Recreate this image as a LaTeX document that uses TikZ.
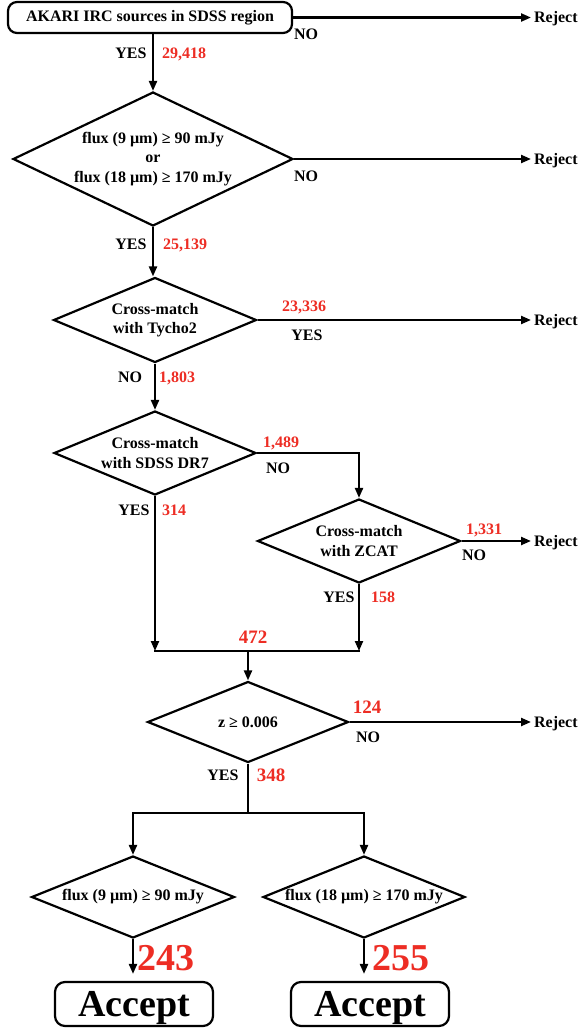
\documentclass[tikz,border=0pt]{standalone}
\usepackage{fontspec}
\setmainfont{Liberation Serif}
\usetikzlibrary{shapes.geometric,arrows.meta}
\definecolor{redn}{RGB}{237,45,36}
\begin{document}
\begin{tikzpicture}[x=1pt,y=-1pt,line width=2.2pt,
  >={Triangle[length=10pt,width=8pt]},
  lbl/.style={inner sep=0pt,text height=10.6pt,text depth=0pt,font=\fontsize{16}{19}\selectfont\bfseries},
  num/.style={lbl,text=redn},
  bnum/.style={inner sep=0pt,text height=12.6pt,text depth=0pt,text=redn,font=\fontsize{19}{22}\selectfont\bfseries},
  hnum/.style={inner sep=0pt,text height=25pt,text depth=0pt,text=redn,font=\fontsize{38}{44}\selectfont\bfseries},
  rej/.style={lbl,anchor=west,inner xsep=2pt},
  dia/.style={diamond,draw,inner sep=0pt,align=center,font=\fontsize{16}{19.5}\selectfont\bfseries},
  rbox/.style={draw,rounded corners=9pt,inner sep=0pt}
]
\useasboundingbox (0,0) rectangle (580,1029);

% start
\node[rbox,minimum width=284pt,minimum height=31pt,font=\fontsize{16}{19}\selectfont\bfseries] (start) at (150,17.5) {AKARI IRC sources in SDSS region};
\node[rej] (r1) at (531,17.5) {Reject};
\draw[->] (start.east) -- (r1.west);
\node[lbl] (no1) at (306,34) {NO};

% diamond 1
\node[dia,minimum width=280pt,minimum height=134pt,shape aspect=2.09] (d1) at (153,159)
  {flux (9 µm) ≥ 90 mJy\\or\\flux (18 µm) ≥ 170 mJy};
\draw[->] (d1.north |- start.south) -- (d1.north);
\node[lbl] (yes1) at (131,53) {YES};
\node[num] (n1) at (184,53) {29,418};
\node[rej] (r2) at (531,159) {Reject};
\draw[->] (d1.east) -- (r2.west);
\node[lbl] (no2) at (306,176) {NO};

% Tycho2
\node[dia,minimum width=203pt,minimum height=85pt,shape aspect=2.39] (ty) at (155,320)
  {Cross-match\\with Tycho2};
\draw[->] (d1.south) -- (d1.south |- ty.north);
\node[lbl] (yes2) at (131,244) {YES};
\node[num] (n2) at (185,244) {25,139};
\node[rej] (r3) at (531,320) {Reject};
\draw[->] (ty.east) -- (r3.west);
\node[num] (n3) at (304,306) {23,336};
\node[lbl] (yes3) at (307,335) {YES};

% SDSS DR7
\node[dia,minimum width=202pt,minimum height=84pt,shape aspect=2.4] (sd) at (155,453)
  {Cross-match\\with SDSS DR7};
\draw[->] (ty.south) -- (sd.north);
\node[lbl] (no3) at (130,377) {NO};
\node[num] (n4) at (177,377) {1,803};

% ZCAT
\node[dia,minimum width=203pt,minimum height=84pt,shape aspect=2.42] (zc) at (359,541)
  {Cross-match\\with ZCAT};
\draw[->] (sd.east) -| (zc.north);
\node[num] (n5) at (281,442) {1,489};
\node[lbl] (no4) at (278,468) {NO};
\node[rej] (r4) at (531,541) {Reject};
\draw[->] (zc.east) -- (r4.west);
\node[num] (n6) at (484,529) {1,331};
\node[lbl] (no5) at (474,555) {NO};

% merge
\coordinate (mL) at (155,651);
\coordinate (mR) at (359,651);
\coordinate (mC) at (248,651);
\draw[->] (sd.south) -- (mL);
\draw[->] (zc.south) -- (mR);
\draw[line cap=rect] (mL) -- (mR);
\node[lbl] (yes4) at (134,510) {YES};
\node[num] (n7) at (174,510) {314};
\node[lbl] (yes5) at (339,597) {YES};
\node[num] (n8) at (383,597) {158};
\node[bnum] (n9) at (253,637) {472};

% redshift
\node[dia,minimum width=201pt,minimum height=81pt,shape aspect=2.48] (z) at (248,722)
  {z ≥ 0.006};
\draw[->] (mC) -- (z.north);
\node[rej] (r5) at (531,722) {Reject};
\draw[->] (z.east) -- (r5.west);
\node[bnum] (n10) at (367,707) {124};
\node[lbl] (no6) at (368,737) {NO};
\node[lbl] (yes6) at (223,775) {YES};
\node[bnum] (n11) at (271,775) {348};

% split
\node[dia,minimum width=203pt,minimum height=82pt,shape aspect=2.48] (f9) at (133,897)
  {flux (9 µm) ≥ 90 mJy};
\node[dia,minimum width=202pt,minimum height=82pt,shape aspect=2.46] (f18) at (364,897)
  {flux (18 µm) ≥ 170 mJy};
\coordinate (bC) at (248,813);
\draw (z.south) -- (bC);
\draw[->] (bC) -| (f9.north);
\draw[->] (bC) -| (f18.north);

% accept
\node[rbox,minimum width=158pt,minimum height=44pt,rounded corners=10pt,text height=25pt,text depth=0pt,font=\fontsize{38}{44}\selectfont\bfseries] (a1) at (134,1004) {Accept};
\node[rbox,minimum width=158pt,minimum height=44pt,rounded corners=10pt,text height=25pt,text depth=0pt,font=\fontsize{38}{44}\selectfont\bfseries] (a2) at (370,1004) {Accept};
\draw[->,shorten >=7pt] (f9.south) -- (f9.south |- a1.north);
\draw[->,shorten >=7pt] (f18.south) -- (f18.south |- a2.north);
\node[hnum] (n12) at (166,958) {243};
\node[hnum] (n13) at (401,958) {255};
\end{tikzpicture}
\end{document}
